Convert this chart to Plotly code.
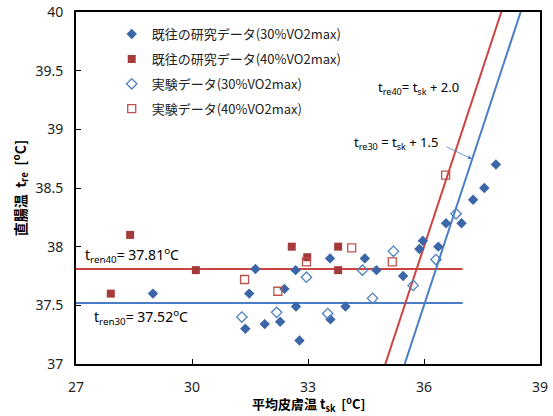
import plotly.graph_objects as go

# ---- data ----
prev30_x = [28.99, 31.64, 31.48, 31.38, 31.88, 32.28, 32.39, 32.68, 32.69, 32.78, 33.57, 33.58,
            33.97, 34.47, 34.77, 35.46, 35.88, 35.97, 36.37, 36.57, 36.97, 37.27, 37.56, 37.86]
prev30_y = [37.60, 37.81, 37.60, 37.30, 37.34, 37.36, 37.64, 37.80, 37.49, 37.20, 37.90, 37.38,
            37.49, 37.90, 37.80, 37.75, 37.98, 38.05, 38.00, 38.20, 38.20, 38.40, 38.50, 38.70]
prev40_x = [27.90, 28.40, 30.10, 32.58, 32.98, 33.78, 33.78]
prev40_y = [37.60, 38.10, 37.80, 38.00, 37.91, 38.00, 37.80]
exp30_x = [31.29, 32.19, 32.96, 33.51, 34.41, 34.67, 35.21, 35.72, 36.31, 36.83]
exp30_y = [37.40, 37.44, 37.74, 37.43, 37.80, 37.56, 37.96, 37.67, 37.89, 38.28]
exp40_x = [31.36, 32.22, 32.96, 34.13, 35.18, 36.56]
exp40_y = [37.72, 37.62, 37.87, 37.99, 37.87, 38.61]

tren40 = 37.81
tren30 = 37.52
offset40 = 2.0
offset30 = 1.5
hline_x = [27, 37]
diag_y = [37, 40]

names = ["既往の研究データ(30%VO2max)", "既往の研究データ(40%VO2max)",
         "実験データ(30%VO2max)", "実験データ(40%VO2max)"]

RED_LINE = "#CC4340"
BLUE_LINE = "#4A7DC4"
BLUE_MK = "#3B66A8"
RED_MK = "#A53A3A"
OPEN_BLUE = "#4F81BD"
OPEN_RED = "#C0504D"

fig = go.Figure()
# reference lines
fig.add_trace(go.Scatter(x=hline_x, y=[tren40, tren40], mode="lines",
                         line=dict(color=RED_LINE, width=2), showlegend=False, hoverinfo="skip"))
fig.add_trace(go.Scatter(x=hline_x, y=[tren30, tren30], mode="lines",
                         line=dict(color=BLUE_LINE, width=2), showlegend=False, hoverinfo="skip"))
fig.add_trace(go.Scatter(x=[v - offset40 for v in diag_y], y=diag_y, mode="lines",
                         line=dict(color=RED_LINE, width=2), showlegend=False, hoverinfo="skip"))
fig.add_trace(go.Scatter(x=[v - offset30 for v in diag_y], y=diag_y, mode="lines",
                         line=dict(color=BLUE_LINE, width=2), showlegend=False, hoverinfo="skip"))

# data
fig.add_trace(go.Scatter(x=prev30_x, y=prev30_y, mode="markers", name=names[0], legendgroup="a",
                         marker=dict(symbol="diamond", size=8, color=BLUE_MK)))
fig.add_trace(go.Scatter(x=prev40_x, y=prev40_y, mode="markers", name=names[1], legendgroup="b",
                         marker=dict(symbol="square", size=8, color=RED_MK)))
fig.add_trace(go.Scatter(x=exp30_x, y=exp30_y, mode="markers", name=names[2], legendgroup="c",
                         marker=dict(symbol="diamond-open", size=8, color=OPEN_BLUE, line=dict(width=1.3))))
fig.add_trace(go.Scatter(x=exp40_x, y=exp40_y, mode="markers", name=names[3], legendgroup="d",
                         marker=dict(symbol="square-open", size=8, color=OPEN_RED, line=dict(width=1.3))))

FONT = "Noto Sans CJK JP, Noto Sans, sans-serif"
ann_font = dict(family="Noto Sans, sans-serif", size=14, color="black")
eq_font = dict(family="Noto Sans, sans-serif", size=13, color="black")

annotations = [
    dict(x=35.87, y=39.35, text="t<sub>re40</sub>= t<sub>sk</sub> + 2.0", showarrow=False,
         xref="x", yref="y", font=eq_font),
    dict(x=35.28, y=38.88, text="t<sub>re30</sub> = t<sub>sk</sub> + 1.5", showarrow=False,
         xref="x", yref="y", font=eq_font),
    dict(x=37.24, y=38.747, ax=-27, ay=-13, text="", showarrow=True, arrowhead=2,
         arrowsize=1, arrowwidth=0.8, arrowcolor=BLUE_LINE, xref="x", yref="y"),
    dict(x=27.18, y=37.93, text="t<sub>ren40</sub>= 37.81<sup>o</sup>C", showarrow=False,
         xanchor="left", xref="x", yref="y", font=ann_font),
    dict(x=27.41, y=37.40, text="t<sub>ren30</sub>= 37.52<sup>o</sup>C", showarrow=False,
         xanchor="left", xref="x", yref="y", font=ann_font),
    dict(x=0.5, y=-0.147, xref="paper", yref="paper", showarrow=False, yanchor="bottom",
         text="<b>平均皮膚温 t<sub>sk</sub>  [<sup>o</sup>C]</b>", borderpad=0,
         font=dict(family=FONT, size=13, color="black")),
]

fig.update_layout(
    width=553, height=416,
    margin=dict(l=76, r=13, t=12, b=52, autoexpand=False),
    paper_bgcolor="white", plot_bgcolor="white",
    font=dict(family=FONT, size=14, color="#222"),
    showlegend=True,
    legend=dict(x=0.077, y=0.98, xanchor="left", yanchor="top", bgcolor="rgba(0,0,0,0)",
                font=dict(family=FONT, size=13, color="#222"), tracegroupgap=5,
                itemwidth=30),
    annotations=annotations,
    xaxis=dict(range=[27, 39], tickvals=[27, 30, 33, 36, 39], showgrid=False, zeroline=False,
               showline=True, linecolor="black", linewidth=2, mirror=True, automargin=False,
               ticks="inside", ticklen=5, tickcolor="black",
               tickfont=dict(family="Noto Sans, sans-serif", size=14, color="#222"),
               ticklabelstandoff=9),
    yaxis=dict(range=[37, 40], dtick=0.5, showgrid=False, zeroline=False,
               showline=True, linecolor="black", linewidth=2, mirror=True, automargin=False,
               ticks="inside", ticklen=5, tickcolor="black",
               tickfont=dict(family="Noto Sans, sans-serif", size=14, color="#222"),
               ticklabelstandoff=8,
               title=dict(text="<b>直腸温  t<sub>re</sub>  [<sup>o</sup>C]</b>", standoff=6,
                          font=dict(family=FONT, size=14, color="black"))),
)

fig.write_html("out.html")
